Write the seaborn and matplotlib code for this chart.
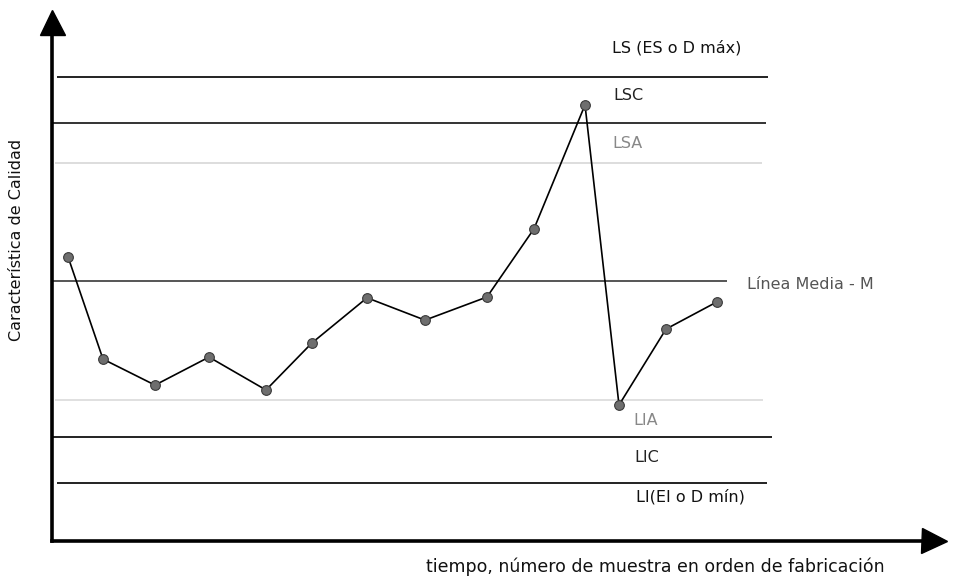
import numpy as np
import pandas as pd
import seaborn as sns
import matplotlib.pyplot as plt

# tiempo (unidades arbitrarias) y valor de la caracteristica de calidad
tiempo = [1.6, 5.1, 10.3, 15.7, 21.4, 26.0, 31.5, 37.3, 43.5, 48.2, 53.3, 56.7, 61.4, 66.5]
calidad = [55.7, 30.5, 24.1, 31.0, 22.9, 34.5, 45.6, 40.1, 45.8, 62.6, 93.1, 19.2, 37.9, 44.6]

# lineas de control
nombres = ['LS', 'LSC', 'LSA', 'M', 'LIA', 'LIC', 'LI']
limites = [100.0, 88.7, 78.8, 49.8, 20.4, 11.3, 0.0]
inicio = [0.5, 0.1, 0.3, 0.1, 0.3, 0.1, 0.5]
fin = [71.6, 71.4, 71.0, 67.5, 71.1, 72.0, 71.5]
colores = ['#222222', '#333333', '#dddddd', '#555555', '#e0e0e0', '#222222', '#222222']

etiquetas = ['LS (ES o D máx)', 'LSC', 'LSA', 'Línea Media - M', 'LIA', 'LIC', 'LI(EI o D mín)']
etiq_x = [56.0, 56.1, 56.0, 69.5, 58.1, 58.2, 58.4]
etiq_dy = [7.1, 6.6, 4.9, -1.0, -4.9, -5.1, -3.4]
etiq_col = ['#111111', '#222222', '#888888', '#555555', '#888888', '#222222', '#111111']

sns.set_style('white')
plt.rcParams['font.family'] = ['DejaVu Sans']

fig = plt.figure(figsize=(9.56, 5.83), dpi=100)
ax = fig.add_axes([0.0544, 0.0720, 0.9226, 0.8902])

ax.hlines(limites, inicio, fin, colors=colores, linewidth=1.4)

df = pd.DataFrame({'tiempo': tiempo, 'calidad': calidad})
sns.lineplot(data=df, x='tiempo', y='calidad', ax=ax, color='black', linewidth=1.2,
             marker='o', markersize=7, markerfacecolor='#6e6e6e',
             markeredgecolor='#3a3a3a', markeredgewidth=0.8, zorder=3)

for lab, x, lim, dy, c in zip(etiquetas, etiq_x, limites, etiq_dy, etiq_col):
    ax.text(x, lim + dy, lab, fontsize=11.5, color=c, ha='left', va='center')

ax.set_xlim(0, 88.2)
ax.set_ylim(-14.29, 113.5)
ax.set_xticks([])
ax.set_yticks([])
ax.set_xlabel('')
ax.set_ylabel('')
for s in ['top', 'right']:
    ax.spines[s].set_visible(False)
for s in ['left', 'bottom']:
    ax.spines[s].set_linewidth(2.6)
    ax.spines[s].set_color('black')

# flechas de los ejes
ax.plot(0, 1, '^', color='black', markersize=18, transform=ax.transAxes, clip_on=False)
ax.plot(1, 0, '>', color='black', markersize=18, transform=ax.transAxes, clip_on=False)

fig.text(655 / 956, 1 - 567 / 583, 'tiempo, número de muestra en orden de fabricación',
         ha='center', va='center', fontsize=12.5, color='#111111')
fig.text(17 / 956, 1 - 240 / 583, 'Característica de Calidad', rotation=90,
         ha='center', va='center', fontsize=11.5, color='#111111')

fig.savefig('out.png', dpi=100)
